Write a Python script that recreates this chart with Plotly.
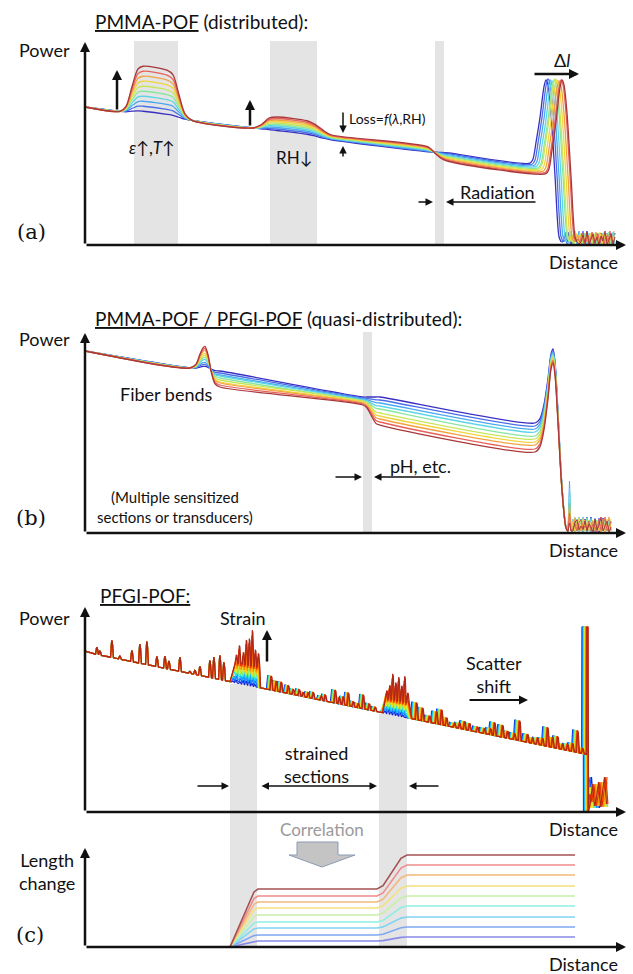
import plotly.graph_objects as go

FONT = "Lato"
SERIF = "DejaVu Serif"
INK = "#111111"
BAND = "#e4e4e4"

# ---------------- shared data ----------------
spectral_colors = ['#3a2fc0', '#4a6ee8', '#4aa8f0', '#5cd6e6', '#88e6a0',
                   '#c8e65a', '#f2d43c', '#f2a040', '#e8605a', '#a8383a']
jet_colors = ['#1020d0', '#1060ff', '#10a0ff', '#20e0f0', '#70f080',
              '#d0f030', '#ffd010', '#ff8c00', '#f03000', '#b02818']
lc_colors = ['#8a8ae8', '#80a8f2', '#80d4f2', '#90eee2', '#c8f0a8',
             '#f4e07c', '#f4b87c', '#f08c8c', '#a45252']
DIST_MAX = 543

# ---------------- (a) PMMA-POF distributed ----------------
a_power0 = 138
a_loss_per_unit = 0.125
a_bump1_x = [35, 41, 47, 53, 58, 82, 88, 94, 100, 107]
a_bump1_frac = [0, 0.12, 0.55, 0.93, 1, 0.98, 0.9, 0.5, 0.12, 0]
a_bump1_amp = [3, 8, 13, 18, 23, 28, 33, 38, 43, 48]
a_bump2_x = [168, 176, 184, 192, 222, 230, 238, 246]
a_bump2_frac = [0, 0.3, 0.85, 1, 1, 0.75, 0.3, 0]
a_rh_step = [0, 0, 0, 0, 0, 0.3, 0.8, 1]
a_bump2_amp = [0.5, 2, 3.5, 5, 6.5, 8, 9.5, 11, 12.5, 14]
a_rh_offset = [-2, -1.4, -0.9, -0.3, 0.2, 0.8, 1.3, 1.9, 2.4, 3]
a_rad_x = [343, 350, 357, 364]
a_rad_step = [0, 0.45, 0.85, 1]
a_rad_offset = [-0.5, -1.4, -2.4, -3.3, -4.3, -5.2, -6.2, -7.1, -8.1, -9]
a_peak_x = [461, 463, 465, 467, 469, 470, 472, 474, 476, 477]
a_peak_power = [165, 166, 165, 164, 165, 166, 165, 164, 165, 165]
a_rise_dx = [-16, -13, -10, -6, -2, 0]
a_rise_frac = [0, 0.05, 0.25, 0.55, 0.92, 1]
a_fall_dx = [2, 5, 9, 13, 15]
a_fall_frac = [0.97, 0.8, 0.42, 0.05, 0.02]
a_noise = [3, 10, 2, 13, 1, 6, 11, 2, 8, 0, 9, 4, 14, 1, 5, 11, 1, 8, 3, 12,
           2, 7, 10, 0, 6, 3, 12, 1]
a_noise_end = 530
a_bands = [(49, 93), (185, 232), (350, 359)]

# ---------------- (b) quasi-distributed ----------------
b_power0 = 182
b_loss_per_unit = 0.162
b_bend_x = [105, 111, 115, 118, 120]
b_bend_frac = [0, 0.2, 0.65, 0.93, 1]
b_bend_amp = [4, 6, 8, 11, 13, 15, 17, 20, 22, 24]
b_drop_x = [123, 126, 130, 135]
b_drop_frac = [0.2, 0.6, 0.92, 1]
b_after_bend = [162, 160, 158, 157, 155, 153, 151, 150, 148, 146]
b_before_ph = [136, 135, 134, 133, 132, 132, 131, 130, 129, 128]
b_after_ph = [136, 133, 130, 127, 124, 120, 117, 114, 111, 108]
b_before_peak = [110, 107, 104, 101, 97, 94, 91, 88, 84, 81]
b_ph_x = [278, 282, 287, 291, 295]
b_ph_frac = [0, 0.15, 0.6, 0.92, 1]
b_rise_x = [450, 455, 459, 463, 466, 468]
b_rise_frac = [0, 0.06, 0.25, 0.6, 0.93, 1]
b_fall_x = [470, 473, 477, 481, 483]
b_fall_frac = [0.93, 0.65, 0.25, 0.03, 0.01]
b_peak_power = [184, 182, 181, 179, 178, 176, 175, 173, 172, 170]
b_first_echo = [18, 30, 52, 45, 36, 25, 14, 30, 20, 10]
b_noise = [4, 12, 2, 9, 6, 1, 14, 3, 8, 16, 2, 7, 12, 1, 6, 15, 4, 9, 2, 11,
           13, 3, 7]
b_noise_end = 527
b_band = (278, 287)

# ---------------- (c) PFGI-POF ----------------
c_power0 = 160
c_loss_per_unit = 0.204
c_pre_x = [12, 15, 27, 35, 47, 55, 62, 72, 80, 84, 95, 105, 110, 115, 125, 129, 135, 139]
c_pre_h = [7, 4, 17, 3, 11, 19, 23, 10, 12, 8, 14, 2, 4, 9, 17, 21, 24, 18]
c_band1_x = [148, 151, 155, 158, 161, 164, 167, 170]
c_band1_h = [8, 18, 12, 25, 27, 36, 17, 14]
c_mid_x = [183, 188, 193, 200, 205, 211, 215, 220, 225, 233, 237, 247, 251, 255,
           260, 265, 270, 275, 281, 287]
c_mid_h = [14, 10, 10, 8, 5, 6, 4, 5, 6, 4, 6, 13, 6, 8, 13, 5, 4, 14, 6, 4]
c_band2_x = [297, 300, 303, 306, 309, 312, 315, 318]
c_band2_h = [8, 14, 26, 18, 24, 16, 26, 10]
c_post_x = [327, 333, 340, 347, 352, 357, 365, 370, 375, 380, 388, 395, 401, 405,
            413, 418, 425, 430, 438, 443, 448, 453, 458, 463, 468, 473, 478, 483, 488, 493]
c_post_h = [17, 13, 6, 12, 15, 8, 4, 5, 8, 7, 5, 5, 6, 13, 12, 7, 6, 20, 8, 5, 6, 7,
            19, 10, 12, 5, 6, 8, 22, 5]
c_gain = [0.15, 0.25, 0.34, 0.43, 0.52, 0.62, 0.71, 0.8, 0.9, 1.0]
c_lift1 = [0, 2, 4, 7, 9, 11, 13, 15, 18, 20]
c_lift2 = [0, 2, 3, 5, 7, 8, 10, 12, 13, 15]
c_shift1 = [0, 0.4, 0.8, 1.2, 1.6, 2.0, 2.4, 2.8, 3.2, 3.6]
c_shift2 = [0, 0.55, 1.1, 1.65, 2.2, 2.75, 3.3, 3.85, 4.4, 5.0]
c_end_x = 497
c_end_power = 185
c_noise = [30, 5, 20, 35, 8, 15, 25, 4, 18, 10, 28, 6, 14]
c_noise_end = 523
c_bands = [(145, 172), (294, 322)]
c_band_tops = [128, 98]

# ---------------- length change ----------------
lc_x = [145, 169, 173, 292, 298, 316, 322, 490]
lc_plateau = [6, 12, 19, 25, 32, 39, 45, 51, 58]
lc_final = [10, 20, 30, 41, 51, 61, 72, 82, 92]

fig = go.Figure()


def add_line(xs, ys, color, xa, ya, width=1.3, shape='spline', smoothing=0.8):
    line = dict(color=color, width=width, shape=shape)
    if shape == 'spline':
        line['smoothing'] = smoothing
    fig.add_trace(go.Scatter(x=xs, y=ys, mode='lines', line=line, xaxis=xa, yaxis=ya,
                             hoverinfo='skip', showlegend=False))


# ---- panel (a) ----
def a_base(x):
    return a_power0 - a_loss_per_unit * x


for k in range(10):
    xs, ys = [0], [a_base(0)]
    for x, f in zip(a_bump1_x, a_bump1_frac):
        xs.append(x); ys.append(a_base(x) + f * a_bump1_amp[k])
    for x, f, s in zip(a_bump2_x, a_bump2_frac, a_rh_step):
        xs.append(x); ys.append(a_base(x) + f * a_bump2_amp[k] + s * a_rh_offset[k])
    for x, s in zip(a_rad_x, a_rad_step):
        xs.append(x); ys.append(a_base(x) + (1 - s) * a_rh_offset[k] + s * a_rad_offset[k])
    p, pk = a_peak_x[k], a_peak_power[k]
    b0 = a_base(p - 16) + a_rad_offset[k]
    for dx, f in zip(a_rise_dx, a_rise_frac):
        xs.append(p + dx); ys.append(b0 + f * (pk - b0))
    for dx, f in zip(a_fall_dx, a_fall_frac):
        xs.append(p + dx); ys.append(f * pk)
    add_line(xs, ys, spectral_colors[k], 'x', 'y', 1.3)
    nx, ny = [xs[-1]], [ys[-1]]
    j = 0
    while xs[-1] + 2 * (j + 1) <= a_noise_end:
        nx.append(xs[-1] + 2 * (j + 1)); ny.append(a_noise[(j + 3 * k) % len(a_noise)])
        j += 1
    add_line(nx, ny, spectral_colors[k], 'x', 'y', 1.0, shape='linear')


# ---- panel (b) ----
def b_base(x):
    return b_power0 - b_loss_per_unit * x


for k in range(10):
    xs, ys = [0], [b_base(0)]
    for x, f in zip(b_bend_x, b_bend_frac):
        xs.append(x); ys.append(b_base(x) + f * b_bend_amp[k])
    top = b_base(120) + b_bend_amp[k]
    for x, f in zip(b_drop_x, b_drop_frac):
        xs.append(x); ys.append(top + f * (b_after_bend[k] - top))
    for x, f in zip(b_ph_x, b_ph_frac):
        xs.append(x); ys.append(b_before_ph[k] + f * (b_after_ph[k] - b_before_ph[k]))
    pk = b_peak_power[k]
    for x, f in zip(b_rise_x, b_rise_frac):
        xs.append(x); ys.append(b_before_peak[k] + f * (pk - b_before_peak[k]))
    for x, f in zip(b_fall_x, b_fall_frac):
        xs.append(x); ys.append(f * pk)
    add_line(xs, ys, spectral_colors[k], 'x2', 'y2', 1.3)
    nx, ny = [xs[-1], xs[-1] + 1.5, xs[-1] + 3], [ys[-1], b_first_echo[k], 2]
    j = 0
    while nx[-1] + 2 <= b_noise_end:
        nx.append(nx[-1] + 2); ny.append(b_noise[(j + 2 * k) % len(b_noise)])
        j += 1
    add_line(nx, ny, spectral_colors[k], 'x2', 'y2', 1.0, shape='linear')


# ---- panel (c) ----
def c_base(x):
    return c_power0 - c_loss_per_unit * x


def spike(xs, ys, x, h, lift=0.0, hw=1.5):
    xs += [x - hw, x - 0.3, x + 0.3, x + hw]
    ys += [c_base(x - hw) + lift, c_base(x) + lift + h, c_base(x) + lift + h * 0.92,
           c_base(x + hw) + lift]


for k in range(10):
    xs, ys = [0], [c_base(0) + 1]
    for x, h in zip(c_pre_x, c_pre_h):
        spike(xs, ys, x, h)
    s1, s2 = c_shift1[k], c_shift2[k]
    xs.append(c_bands[0][0]); ys.append(c_base(c_bands[0][0]))
    for x, h in zip(c_band1_x, c_band1_h):
        spike(xs, ys, x + s1, h * c_gain[k], c_lift1[k], hw=1.3)
    xs.append(c_bands[0][1] + s1); ys.append(c_base(c_bands[0][1] + s1))
    for x, h in zip(c_mid_x, c_mid_h):
        spike(xs, ys, x + s1, h)
    xs.append(c_bands[1][0] + s1); ys.append(c_base(c_bands[1][0] + s1))
    for x, h in zip(c_band2_x, c_band2_h):
        spike(xs, ys, x + s2, h * c_gain[k], c_lift2[k], hw=1.3)
    xs.append(c_bands[1][1] + s2); ys.append(c_base(c_bands[1][1] + s2))
    for x, h in zip(c_post_x, c_post_h):
        spike(xs, ys, x + s2, h)
    xe = c_end_x + s2
    xs += [xe - 0.3, xe, xe + 1.2, xe + 1.5]
    ys += [c_base(xe), c_end_power, c_end_power, 0]
    j = 0
    while xe + 1.5 + 2 * (j + 1) <= c_noise_end:
        xs.append(xe + 1.5 + 2 * (j + 1)); ys.append(c_noise[(j + k) % len(c_noise)])
        j += 1
    add_line(xs, ys, jet_colors[k], 'x3', 'y3', 1.2, shape='linear')

# ---- length change ----
for k in range(9):
    p1, p2 = lc_plateau[k], lc_final[k]
    d = p2 - p1
    ys = [0, 0.95 * p1, p1, p1, p1 + 0.1 * d, p1 + 0.9 * d, p2, p2]
    add_line(lc_x, ys, lc_colors[k], 'x4', 'y4', 1.6, shape='linear')

# ---------------- layout geometry ----------------
H, W = 974, 633
X0_PX = 85
panel_bottom = {'x': 245, 'x2': 533, 'x3': 812, 'x4': 947}
xdom = [X0_PX / W, 628 / W]


def ydom(bottom, top):
    return [1 - bottom / H, 1 - top / H]


def to_paper(xr, x, y):
    # axes are scaled 1 unit = 1 px in each panel
    return (X0_PX + x) / W, 1 - (panel_bottom[xr] - y) / H


# ---------------- shapes ----------------
shapes = []
for x0, x1 in a_bands:
    shapes.append(dict(type='rect', xref='x', yref='y', x0=x0, x1=x1, y0=0, y1=204,
                       fillcolor=BAND, line=dict(width=0), layer='below'))
shapes.append(dict(type='rect', xref='x2', yref='y2', x0=b_band[0], x1=b_band[1], y0=0, y1=201,
                   fillcolor=BAND, line=dict(width=0), layer='below'))
for (x0, x1), top in zip(c_bands, c_band_tops):
    shapes.append(dict(type='rect', xref='x3', yref='paper', x0=x0, x1=x1,
                       y0=to_paper('x4', 0, 0)[1], y1=to_paper('x3', 0, top)[1],
                       fillcolor=BAND, line=dict(width=0), layer='below'))
shapes.append(dict(type='path', xref='x4', yref='y4',
                   path='M 212,105 L 253,105 L 253,92 L 270,92 L 237,80 L 204,92 L 212,92 Z',
                   fillcolor='#c4c4c4', line=dict(color='#8c9bb4', width=1), layer='above'))

# ---------------- annotations ----------------
ann = []


def label(xr, x, y, text, size=18, anchor='center', color=INK, family=FONT, align='center'):
    px, py = to_paper(xr, x, y)
    ann.append(dict(xref='paper', yref='paper', x=px, y=py, text=text, showarrow=False,
                    xanchor=anchor, yanchor='middle', align=align,
                    font=dict(family=family, size=size, color=color)))


def arrow(xr, yr, x0, y0, x1, y1, w=1.5, size=1.0, both=False):
    d = dict(xref=xr, yref=yr, axref=xr, ayref=yr, x=x1, y=y1, ax=x0, ay=y0,
             showarrow=True, arrowhead=2, arrowsize=size, arrowwidth=w, arrowcolor=INK,
             text='', standoff=0, startstandoff=0)
    if both:
        d.update(arrowside='end+start', startarrowhead=2, startarrowsize=size)
    ann.append(d)


panels = [('x', 'y', 203), ('x2', 'y2', 200), ('x3', 'y3', 205), ('x4', 'y4', 99)]
for xr, yr, top in panels:
    arrow(xr, yr, 0, 0, 0, top, w=2.5, size=0.8)
    arrow(xr, yr, 0, 0, 541, 0, w=2.5, size=0.8)
    label(xr, 535, -17, 'Distance', anchor='right')

# (a)
label('x', 8, 223, '<u>PMMA-POF</u> (distributed):', size=19, anchor='left')
label('x', -41, 195, 'Power')
label('x', -54, 13, '(a)', size=21, family=SERIF)
label('x', 67, 98, '<i>ε</i>↑,<i>T</i>↑', size=17)
label('x', 209, 88, 'RH↓', size=17)
label('x', 262, 126, 'Loss=<i>f</i>(<i>λ</i>,RH)', size=14, anchor='left')
label('x', 412, 53, 'Radiation')
label('x', 477, 185, 'Δ<i>l</i>')
arrow('x', 'y', 32, 134, 32, 175, w=2.5, size=0.8)
arrow('x', 'y', 165, 118, 165, 145, w=2.5, size=0.8)
arrow('x', 'y', 258, 134, 258, 112, w=1.5, size=1.0)
arrow('x', 'y', 258, 87, 258, 99, w=1.5, size=1.0)
arrow('x', 'y', 452, 43, 361, 43, w=1.5, size=1.0)
arrow('x', 'y', 332, 43, 348, 43, w=1.5, size=1.0)
arrow('x', 'y', 448, 171, 494, 171, w=2.5, size=0.8)

# (b)
label('x2', 8, 215, '<u>PMMA-POF / PFGI-POF</u> (quasi-distributed):', size=19, anchor='left')
label('x2', -41, 194, 'Power')
label('x2', -54, 15, '(b)', size=21, family=SERIF)
label('x2', 81, 139, 'Fiber bends')
label('x2', 335, 67, 'pH, etc.')
label('x2', 90, 26, '(Multiple sensitized<br>sections or transducers)', size=15)
arrow('x2', 'y2', 356, 56, 289, 56, w=1.5, size=1.0)
arrow('x2', 'y2', 249, 56, 277, 56, w=1.5, size=1.0)

# (c)
label('x3', 13, 217, '<u>PFGI-POF:</u>', size=19, anchor='left')
label('x3', -41, 194, 'Power')
label('x3', 158, 194, 'Strain')
arrow('x3', 'y3', 182, 149, 182, 182, w=2.5, size=0.8)
label('x3', 409, 138, 'Scatter<br>shift')
arrow('x3', 'y3', 383, 112, 443, 112, w=2, size=0.9)
label('x3', 231, 48, 'strained<br>sections')
arrow('x3', 'y3', 111, 26, 144, 26, w=1.5, size=1.0)
arrow('x3', 'y3', 175, 26, 292, 26, w=1.5, size=1.0, both=True)
arrow('x3', 'y3', 355, 26, 324, 26, w=1.5, size=1.0)

# length change
label('x4', 237, 118, 'Correlation', size=17, color='#9a9a9a')
label('x4', -38, 76, 'Length<br>change')
label('x4', -55, 12, '(c)', size=21, family=SERIF)

# ---------------- layout ----------------
ax_common = dict(visible=False, fixedrange=True, showgrid=False, zeroline=False)
fig.update_layout(
    width=W, height=H, margin=dict(l=0, r=0, t=0, b=0),
    paper_bgcolor='white', plot_bgcolor='rgba(0,0,0,0)',
    xaxis=dict(domain=xdom, range=[0, DIST_MAX], anchor='y', **ax_common),
    yaxis=dict(domain=ydom(245, 40), range=[0, 205], anchor='x', **ax_common),
    xaxis2=dict(domain=xdom, range=[0, DIST_MAX], anchor='y2', **ax_common),
    yaxis2=dict(domain=ydom(533, 328), range=[0, 205], anchor='x2', **ax_common),
    xaxis3=dict(domain=xdom, range=[0, DIST_MAX], anchor='y3', **ax_common),
    yaxis3=dict(domain=ydom(812, 607), range=[0, 205], anchor='x3', **ax_common),
    xaxis4=dict(domain=xdom, range=[0, DIST_MAX], anchor='y4', **ax_common),
    yaxis4=dict(domain=ydom(947, 840), range=[0, 107], anchor='x4', **ax_common),
    shapes=shapes, annotations=ann, showlegend=False,
)

fig.write_html("out.html")
